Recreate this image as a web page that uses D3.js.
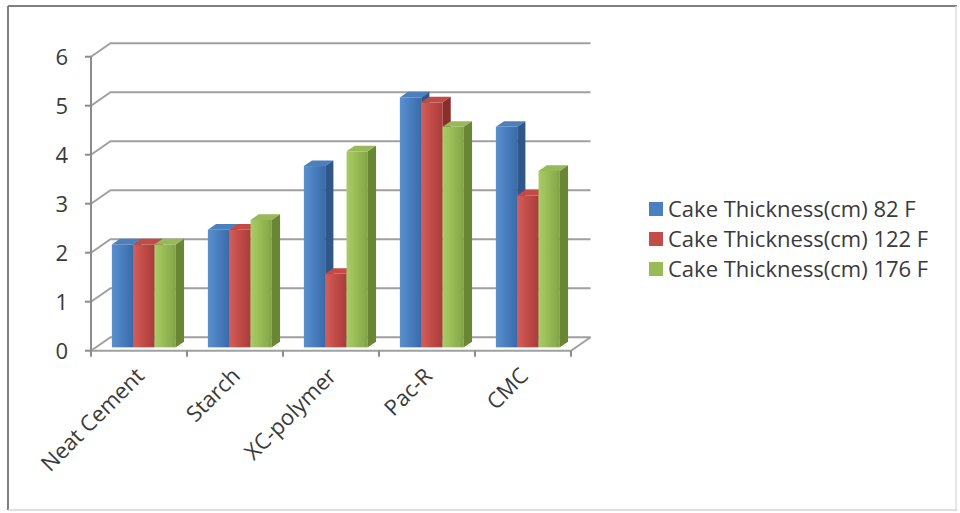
<!DOCTYPE html>
<html>
<head>
<meta charset="utf-8">
<script src="https://cdn.jsdelivr.net/npm/d3@7"></script>
<style>
  html, body { margin: 0; padding: 0; background: #ffffff; }
  svg { display: block; }
  text { font-family: "Open Sans", "Noto Sans", sans-serif; fill: #3a3a3a; }
</style>
</head>
<body>
<svg id="chart" width="960" height="513"></svg>
<script>
// Filter cake thickness by additive and temperature
const categories = ["Neat Cement", "Starch", "XC-polymer", "Pac-R", "CMC"];
const seriesNames = ["Cake Thickness(cm) 82 F", "Cake Thickness(cm) 122 F", "Cake Thickness(cm) 176 F"];
const thickness82 = [2.1, 2.4, 3.7, 5.1, 4.5];
const thickness122 = [2.1, 2.4, 1.5, 5.0, 3.1];
const thickness176 = [2.1, 2.6, 4.0, 4.5, 3.6];
const yTicks = [0, 1, 2, 3, 4, 5, 6];

const seriesValues = [thickness82, thickness122, thickness176];
const palette = [
  { front: ["#5a8fd0", "#4a7fc0", "#3b6aa6"], top: "#4d7fbd", side: "#2f5788" },
  { front: ["#d35e5a", "#c34c48", "#a83d3a"], top: "#c24a47", side: "#8a2e2c" },
  { front: ["#a9cc66", "#98bb56", "#83a447"], top: "#97b957", side: "#6a8536" }
];

const svg = d3.select("#chart");

// Oblique 3D setup: front plane on the axes, depth vector toward the back wall
const DX = 19.5, DY = 13.4;
const x = d3.scaleBand().domain(categories).range([91, 571]).paddingInner(1 / 3).paddingOuter(1 / 6);
const xs = d3.scaleBand().domain(d3.range(seriesNames.length)).range([0, x.bandwidth()]).padding(0);
const y = d3.scaleLinear().domain([0, 6]).range([350.7, 56.7]);
const proj = (px, v, z) => [px + z * DX, y(v) - z * DY];
const line = d3.line();

// outer frame
svg.append("line").attr("x1", 8).attr("y1", 6).attr("x2", 957).attr("y2", 6).attr("stroke", "#7f7f7f").attr("stroke-width", 2);
svg.append("line").attr("x1", 8).attr("y1", 6).attr("x2", 8).attr("y2", 510).attr("stroke", "#7f7f7f").attr("stroke-width", 2);
svg.append("line").attr("x1", 956).attr("y1", 6).attr("x2", 956).attr("y2", 510).attr("stroke", "#dcdcdc").attr("stroke-width", 1.5);
svg.append("line").attr("x1", 8).attr("y1", 510).attr("x2", 957).attr("y2", 510).attr("stroke", "#d4d4d4").attr("stroke-width", 1.5);

// gradients for the bar fronts
const defs = svg.append("defs");
palette.forEach((p, i) => {
  const g = defs.append("linearGradient").attr("id", "front" + i).attr("x1", "0").attr("x2", "1").attr("y1", "0").attr("y2", "0");
  g.append("stop").attr("offset", "0%").attr("stop-color", p.front[0]);
  g.append("stop").attr("offset", "45%").attr("stop-color", p.front[1]);
  g.append("stop").attr("offset", "100%").attr("stop-color", p.front[2]);
});

const x0 = x.range()[0], x1 = x.range()[1];
const grid = svg.append("g").attr("fill", "none").attr("stroke", "#a0a0a0").attr("stroke-width", 2);

// back wall gridlines and side wall diagonals
yTicks.forEach(t => {
  grid.append("path").attr("d", line([proj(x0, t, 0), proj(x0, t, 1), proj(x1, t, 1)]));
});
// floor edges
grid.append("path").attr("d", line([proj(x0, 0, 0), proj(x1, 0, 0), proj(x1, 0, 1)]));

// axis lines and ticks
const axes = svg.append("g").attr("stroke", "#8c8c8c").attr("stroke-width", 2).attr("fill", "none");
axes.append("path").attr("d", line([proj(x0, 6, 0), proj(x0, 0, 0)]));
yTicks.forEach(t => {
  axes.append("path").attr("d", line([[x0 - 6, y(t)], [x0, y(t)]]));
});
const boundaries = categories.map(c => x(c) - x.step() * x.paddingInner() / 2).concat([x1]);
boundaries.forEach(b => {
  axes.append("path").attr("d", line([[b, y(0)], [b, y(0) + 6]]));
});

// y tick labels
svg.append("g").selectAll("text").data(yTicks).join("text")
  .attr("x", 68).attr("y", d => y(d)).attr("dy", "0.36em")
  .attr("text-anchor", "end").attr("font-size", 22).text(d => d);

// category labels
svg.append("g").selectAll("text").data(categories).join("text")
  .attr("transform", d => `translate(${x(d) + x.bandwidth() / 2 + 1},${y(0) + 21}) rotate(-45)`)
  .attr("text-anchor", "end").attr("dy", "0.36em").attr("font-size", 22).text(d => d);

// bars: front face, top and right side, painted left to right
const zf = 0.25, zb = 0.67;
const bars = svg.append("g");
categories.forEach((c, ci) => {
  seriesValues.forEach((vals, si) => {
    const v = vals[ci];
    const l = x(c) + xs(si), r = l + xs.bandwidth();
    const p = palette[si];
    const fl = proj(l, 0, zf), ft = proj(r, v, zf);
    bars.append("rect").attr("x", fl[0]).attr("y", ft[1]).attr("width", ft[0] - fl[0]).attr("height", fl[1] - ft[1])
      .attr("fill", `url(#front${si})`);
    bars.append("path").attr("fill", p.top)
      .attr("d", line([proj(l, v, zf), proj(r, v, zf), proj(r, v, zb), proj(l, v, zb)]) + "Z");
    bars.append("path").attr("fill", p.side)
      .attr("d", line([proj(r, 0, zf), proj(r, v, zf), proj(r, v, zb), proj(r, 0, zb)]) + "Z");
  });
});

// legend
const legend = svg.append("g");
seriesNames.forEach((name, i) => {
  const cy = 209 + i * 30;
  legend.append("rect").attr("x", 649).attr("y", cy - 7).attr("width", 14).attr("height", 14).attr("fill", palette[i].front[1]);
  legend.append("text").attr("x", 668).attr("y", cy).attr("dy", "0.36em").attr("font-size", 22).text(name);
});
</script>
</body>
</html>
